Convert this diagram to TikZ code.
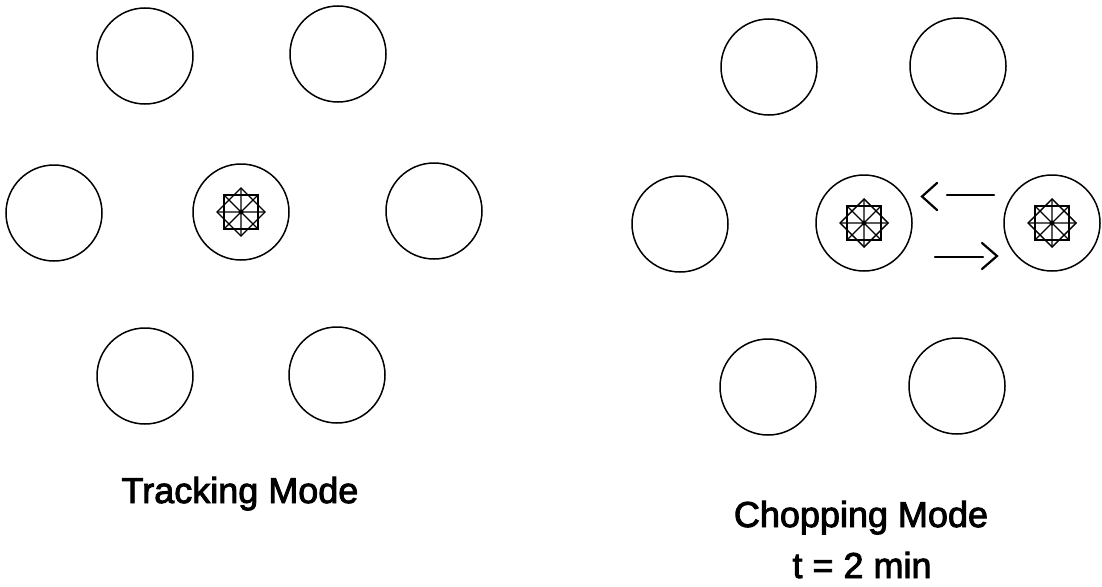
\documentclass[tikz,border=0pt]{standalone}
\usepackage{fontspec}
\setmainfont{Liberation Sans}
\newfontfamily\lblfont[FakeBold=2.5]{Liberation Sans}
\begin{document}
\begin{tikzpicture}[x=1pt,y=-1pt,
  ring/.style={draw, circle, line width=1.5pt, minimum size=96pt, inner sep=0pt},
  label/.style={font=\lblfont\fontsize{36}{40}\selectfont, inner sep=0pt, anchor=base},
  starsym/.pic={
    \draw[line width=1.8pt] (-17,-17) rectangle (17,17);
    \draw[line width=1.4pt] (0,-24) -- (24,0) -- (0,24) -- (-24,0) -- cycle;
    \draw[line width=1.2pt] (-24,0) -- (24,0) (0,-24) -- (0,24)
      (-17,-17) -- (17,17) (-17,17) -- (17,-17);
    \fill (0,0) circle (2.5pt);
  },
  chev/.style={line width=2.2pt, line cap=round, line join=miter}
]
\useasboundingbox (0,0) rectangle (1102,586);
% Tracking mode
\node[ring] (t1) at (145,56) {};
\node[ring] (t2) at (338,54) {};
\node[ring] (t3) at (54,213) {};
\node[ring] (t4) at (241,212) {};
\node[ring] (t5) at (434,211) {};
\node[ring] (t6) at (145,376) {};
\node[ring] (t7) at (337,375) {};
\pic at (t4) {starsym};
\node[label] (tl) at (240,503) {Tracking Mode};
% Chopping mode
\node[ring] (c1) at (769,67) {};
\node[ring] (c2) at (958,66) {};
\node[ring] (c3) at (680,224) {};
\node[ring] (c4) at (864,223) {};
\node[ring] (c5) at (1052,223) {};
\node[ring] (c6) at (768,387) {};
\node[ring] (c7) at (957,386) {};
\pic at (c4) {starsym};
\pic at (c5) {starsym};
% arrows
\draw[chev] (937,183) -- (922,196.5) -- (937,210);
\draw[chev] (947,195) -- (994,195);
\draw[chev] (935,257) -- (983,257);
\draw[chev] (982,243) -- (997,256) -- (982,269);
\node[label] (cl) at (861,527) {Chopping Mode};
\node[label] (cl2) at (862,578) {t = 2 min};
\end{tikzpicture}
\end{document}
